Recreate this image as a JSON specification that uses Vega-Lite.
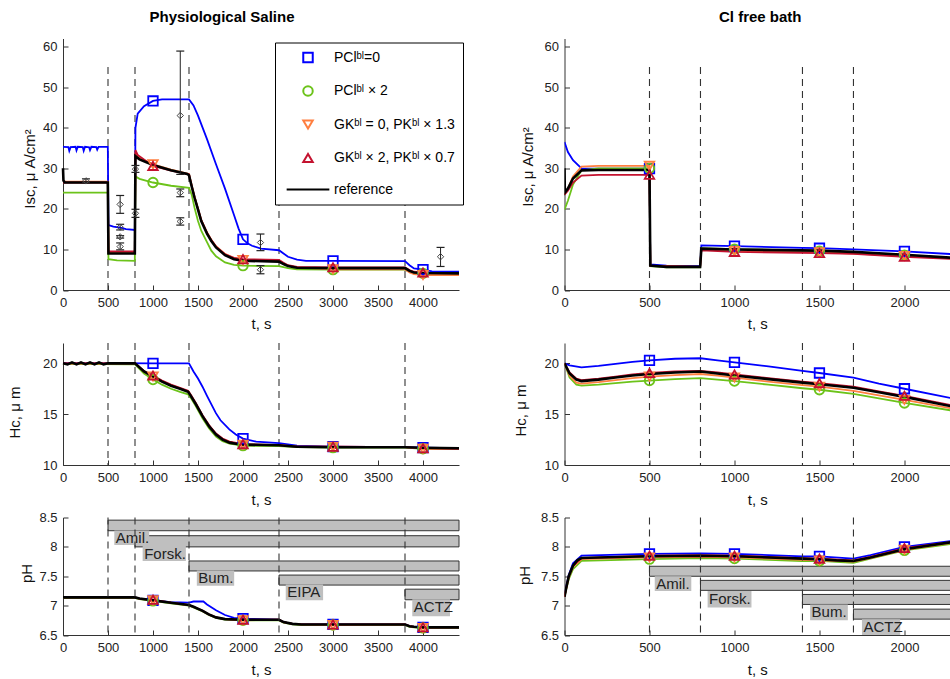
{
"$schema":"https://vega.github.io/schema/vega-lite/v6.json",
"background":"white",
"padding":{"left":6,"top":9.5,"right":0,"bottom":0},
"config":{
 "font":"Liberation Sans",
 "view":{"stroke":null},
 "axis":{"domainColor":"#333","domainWidth":1,"tickColor":"#333","tickSize":-5,"tickWidth":1,"labelPadding":11,"labelFontSize":13,"labelColor":"#222","labelFont":"Liberation Sans","titleFont":"Liberation Sans","titleFontSize":15,"titleFontWeight":"normal","titleColor":"#111","grid":false,"labelFlush":false,"labelOverlap":false},
 "title":{"fontSize":15,"fontWeight":"bold","font":"Liberation Sans","color":"#000","offset":13.5,"frame":"group","anchor":"middle","baseline":"alphabetic"}
},
"datasets":{
"vl1":[{"t":500},{"t":800},{"t":1400},{"t":2400},{"t":3800}],
"vl2":[{"t":500},{"t":800},{"t":1400},{"t":1700}],
"err":[{"t":255,"m":26.9,"lo":26.5,"hi":27.4},{"t":635,"m":21.1,"lo":18.9,"hi":23.3},{"t":635,"m":15.5,"lo":14.8,"hi":16.2},{"t":635,"m":13.1,"lo":12.8,"hi":13.4},{"t":635,"m":10.7,"lo":9.9,"hi":11.6},{"t":805,"m":29.8,"lo":29.0,"hi":30.7},{"t":805,"m":18.9,"lo":17.9,"hi":19.9},{"t":1303,"m":43.0,"lo":28.5,"hi":58.9},{"t":1303,"m":24.0,"lo":23.0,"hi":24.9},{"t":1303,"m":16.9,"lo":16.0,"hi":17.8},{"t":2194,"m":11.7,"lo":9.7,"hi":13.8},{"t":2194,"m":5.0,"lo":4.0,"hi":6.0},{"t":4195,"m":8.2,"lo":5.8,"hi":10.5}],
"bars1":[{"n":"Amil.","t0":500,"t1":4400,"top":8.455,"bot":8.275,"l0":570,"l1":958,"ltop":8.28,"lbot":8.03},{"n":"Forsk.","t0":800,"t1":4400,"top":8.19,"bot":8.0,"l0":885,"l1":1365,"ltop":8.02,"lbot":7.76},{"n":"Bum.","t0":1400,"t1":4400,"top":7.76,"bot":7.59,"l0":1487,"l1":1902,"ltop":7.6,"lbot":7.34},{"n":"EIPA","t0":2400,"t1":4400,"top":7.52,"bot":7.35,"l0":2475,"l1":2890,"ltop":7.36,"lbot":7.09},{"n":"ACTZ","t0":3800,"t1":4400,"top":7.28,"bot":7.1,"l0":3881,"l1":4300,"ltop":7.11,"lbot":6.82}],
"bars2":[{"n":"Amil.","t0":500,"t1":2300,"top":7.67,"bot":7.5,"l0":531,"l1":746,"ltop":7.5,"lbot":7.25},{"n":"Forsk.","t0":800,"t1":2300,"top":7.43,"bot":7.26,"l0":842,"l1":1100,"ltop":7.25,"lbot":6.97},{"n":"Bum.","t0":1400,"t1":2300,"top":7.19,"bot":7.02,"l0":1445,"l1":1667,"ltop":7.02,"lbot":6.75},{"n":"ACTZ","t0":1700,"t1":2300,"top":6.94,"bot":6.77,"l0":1750,"l1":1975,"ltop":6.77,"lbot":6.5}],
"isc1":[
{"s":"a","t":0,"v":35.3},{"s":"a","t":60,"v":35.2},{"s":"a","t":70,"v":34.3},{"s":"a","t":85,"v":35.2},{"s":"a","t":140,"v":35.3},{"s":"a","t":150,"v":34.4},{"s":"a","t":165,"v":35.3},{"s":"a","t":220,"v":35.2},{"s":"a","t":230,"v":34.3},{"s":"a","t":245,"v":35.3},{"s":"a","t":290,"v":35.2},{"s":"a","t":300,"v":34.5},{"s":"a","t":315,"v":35.3},{"s":"a","t":370,"v":35.2},{"s":"a","t":380,"v":34.6},{"s":"a","t":395,"v":35.3},{"s":"a","t":498,"v":35.3},{"s":"a","t":505,"v":16.0},{"s":"a","t":560,"v":15.6},{"s":"a","t":650,"v":15.3},{"s":"a","t":700,"v":15.0},{"s":"a","t":798,"v":14.8},{"s":"a","t":805,"v":40.0},{"s":"a","t":830,"v":43.5},{"s":"a","t":900,"v":45.3},{"s":"a","t":1000,"v":46.6},{"s":"a","t":1100,"v":47.0},{"s":"a","t":1400,"v":47.0},{"s":"a","t":1450,"v":45.5},{"s":"a","t":1500,"v":43.0},{"s":"a","t":1600,"v":37.2},{"s":"a","t":1700,"v":31.0},{"s":"a","t":1800,"v":25.0},{"s":"a","t":1900,"v":18.5},{"s":"a","t":1950,"v":15.2},{"s":"a","t":2000,"v":12.5},{"s":"a","t":2050,"v":11.5},{"s":"a","t":2100,"v":10.9},{"s":"a","t":2200,"v":10.2},{"s":"a","t":2400,"v":9.8},{"s":"a","t":2450,"v":9.0},{"s":"a","t":2500,"v":8.2},{"s":"a","t":2600,"v":7.5},{"s":"a","t":2700,"v":7.2},{"s":"a","t":3000,"v":7.2},{"s":"a","t":3800,"v":7.1},{"s":"a","t":3850,"v":6.1},{"s":"a","t":3900,"v":5.3},{"s":"a","t":4000,"v":5.0},{"s":"a","t":4100,"v":4.6},{"s":"a","t":4400,"v":4.5},
{"s":"b","t":0,"v":24.0},{"s":"b","t":498,"v":24.0},{"s":"b","t":505,"v":7.6},{"s":"b","t":600,"v":7.3},{"s":"b","t":798,"v":7.2},{"s":"b","t":805,"v":28.0},{"s":"b","t":850,"v":27.4},{"s":"b","t":1000,"v":26.5},{"s":"b","t":1200,"v":25.7},{"s":"b","t":1400,"v":25.2},{"s":"b","t":1430,"v":23.5},{"s":"b","t":1461,"v":20.3},{"s":"b","t":1500,"v":17.0},{"s":"b","t":1536,"v":14.6},{"s":"b","t":1600,"v":11.8},{"s":"b","t":1648,"v":9.7},{"s":"b","t":1700,"v":8.3},{"s":"b","t":1800,"v":6.8},{"s":"b","t":1900,"v":6.2},{"s":"b","t":2000,"v":6.0},{"s":"b","t":2400,"v":5.9},{"s":"b","t":2500,"v":5.4},{"s":"b","t":2600,"v":5.1},{"s":"b","t":3000,"v":5.0},{"s":"b","t":3800,"v":5.0},{"s":"b","t":3850,"v":4.5},{"s":"b","t":3900,"v":4.1},{"s":"b","t":4000,"v":4.1},{"s":"b","t":4400,"v":4.0},
{"s":"c","t":0,"v":26.7},{"s":"c","t":498,"v":26.7},{"s":"c","t":505,"v":9.3},{"s":"c","t":798,"v":9.3},{"s":"c","t":805,"v":33.5},{"s":"c","t":850,"v":32.5},{"s":"c","t":1000,"v":31.0},{"s":"c","t":1200,"v":29.7},{"s":"c","t":1400,"v":28.6},{"s":"c","t":1430,"v":25.8},{"s":"c","t":1461,"v":23.0},{"s":"c","t":1500,"v":20.0},{"s":"c","t":1536,"v":17.3},{"s":"c","t":1600,"v":14.2},{"s":"c","t":1648,"v":12.4},{"s":"c","t":1700,"v":10.8},{"s":"c","t":1800,"v":8.9},{"s":"c","t":1900,"v":7.9},{"s":"c","t":2000,"v":7.4},{"s":"c","t":2400,"v":7.3},{"s":"c","t":2450,"v":6.6},{"s":"c","t":2500,"v":6.0},{"s":"c","t":2600,"v":5.6},{"s":"c","t":3000,"v":5.1},{"s":"c","t":3800,"v":5.1},{"s":"c","t":3850,"v":4.3},{"s":"c","t":3900,"v":3.9},{"s":"c","t":4000,"v":3.7},{"s":"c","t":4400,"v":3.7},
{"s":"d","t":0,"v":26.5},{"s":"d","t":498,"v":26.5},{"s":"d","t":505,"v":9.5},{"s":"d","t":798,"v":9.5},{"s":"d","t":805,"v":34.5},{"s":"d","t":830,"v":33.3},{"s":"d","t":1000,"v":30.6},{"s":"d","t":1200,"v":29.4},{"s":"d","t":1400,"v":28.5},{"s":"d","t":1430,"v":25.7},{"s":"d","t":1461,"v":23.0},{"s":"d","t":1500,"v":20.0},{"s":"d","t":1536,"v":17.2},{"s":"d","t":1600,"v":14.1},{"s":"d","t":1648,"v":12.3},{"s":"d","t":1700,"v":10.7},{"s":"d","t":1800,"v":8.8},{"s":"d","t":1900,"v":7.9},{"s":"d","t":2000,"v":7.6},{"s":"d","t":2400,"v":7.4},{"s":"d","t":2450,"v":6.7},{"s":"d","t":2500,"v":6.1},{"s":"d","t":2600,"v":5.7},{"s":"d","t":3000,"v":5.6},{"s":"d","t":3800,"v":5.6},{"s":"d","t":3850,"v":4.9},{"s":"d","t":3900,"v":4.5},{"s":"d","t":4000,"v":4.3},{"s":"d","t":4400,"v":4.2},
{"s":"r","t":0,"v":30.0},{"s":"r","t":5,"v":27.0},{"s":"r","t":20,"v":26.5},{"s":"r","t":498,"v":26.5},{"s":"r","t":505,"v":9.0},{"s":"r","t":798,"v":9.0},{"s":"r","t":805,"v":33.0},{"s":"r","t":850,"v":32.2},{"s":"r","t":1000,"v":30.8},{"s":"r","t":1200,"v":29.5},{"s":"r","t":1380,"v":28.6},{"s":"r","t":1400,"v":28.3},{"s":"r","t":1430,"v":25.5},{"s":"r","t":1461,"v":22.8},{"s":"r","t":1500,"v":19.8},{"s":"r","t":1536,"v":17.0},{"s":"r","t":1600,"v":13.9},{"s":"r","t":1648,"v":12.1},{"s":"r","t":1700,"v":10.5},{"s":"r","t":1800,"v":8.6},{"s":"r","t":1900,"v":7.6},{"s":"r","t":2000,"v":7.2},{"s":"r","t":2400,"v":7.0},{"s":"r","t":2450,"v":6.4},{"s":"r","t":2500,"v":5.9},{"s":"r","t":2600,"v":5.5},{"s":"r","t":3000,"v":5.4},{"s":"r","t":3800,"v":5.4},{"s":"r","t":3850,"v":4.7},{"s":"r","t":3900,"v":4.3},{"s":"r","t":4000,"v":4.2},{"s":"r","t":4400,"v":4.1}
],
"hc1":[
{"s":"a","t":0,"v":20.05},{"s":"a","t":1000,"v":20.0},{"s":"a","t":1400,"v":20.0},{"s":"a","t":1450,"v":19.2},{"s":"a","t":1500,"v":18.5},{"s":"a","t":1550,"v":17.7},{"s":"a","t":1600,"v":16.8},{"s":"a","t":1699,"v":15.1},{"s":"a","t":1750,"v":14.4},{"s":"a","t":1848,"v":13.5},{"s":"a","t":1920,"v":13.0},{"s":"a","t":2000,"v":12.6},{"s":"a","t":2146,"v":12.3},{"s":"a","t":2400,"v":12.15},{"s":"a","t":2600,"v":11.9},{"s":"a","t":3000,"v":11.8},{"s":"a","t":3800,"v":11.75},{"s":"a","t":4000,"v":11.7},{"s":"a","t":4400,"v":11.65},
{"s":"b","t":0,"v":19.95},{"s":"b","t":800,"v":19.9},{"s":"b","t":900,"v":19.0},{"s":"b","t":1000,"v":18.4},{"s":"b","t":1100,"v":17.9},{"s":"b","t":1200,"v":17.5},{"s":"b","t":1300,"v":17.2},{"s":"b","t":1390,"v":16.95},{"s":"b","t":1420,"v":16.6},{"s":"b","t":1475,"v":15.8},{"s":"b","t":1550,"v":14.6},{"s":"b","t":1624,"v":13.6},{"s":"b","t":1700,"v":12.8},{"s":"b","t":1773,"v":12.35},{"s":"b","t":1850,"v":12.1},{"s":"b","t":2000,"v":11.9},{"s":"b","t":2400,"v":11.85},{"s":"b","t":2600,"v":11.75},{"s":"b","t":3000,"v":11.7},{"s":"b","t":3800,"v":11.7},{"s":"b","t":4000,"v":11.6},{"s":"b","t":4400,"v":11.6},
{"s":"c","t":0,"v":20.0},{"s":"c","t":800,"v":20.0},{"s":"c","t":900,"v":19.2},{"s":"c","t":1000,"v":18.7},{"s":"c","t":1100,"v":18.25},{"s":"c","t":1200,"v":17.85},{"s":"c","t":1300,"v":17.55},{"s":"c","t":1390,"v":17.25},{"s":"c","t":1420,"v":16.85},{"s":"c","t":1475,"v":16.05},{"s":"c","t":1550,"v":14.85},{"s":"c","t":1624,"v":13.85},{"s":"c","t":1700,"v":13.05},{"s":"c","t":1773,"v":12.55},{"s":"c","t":1850,"v":12.25},{"s":"c","t":2000,"v":12.0},{"s":"c","t":2400,"v":11.95},{"s":"c","t":2600,"v":11.8},{"s":"c","t":3000,"v":11.8},{"s":"c","t":3800,"v":11.75},{"s":"c","t":4000,"v":11.6},{"s":"c","t":4400,"v":11.6},
{"s":"d","t":0,"v":20.0},{"s":"d","t":800,"v":20.0},{"s":"d","t":900,"v":19.25},{"s":"d","t":1000,"v":18.8},{"s":"d","t":1100,"v":18.3},{"s":"d","t":1200,"v":17.9},{"s":"d","t":1300,"v":17.6},{"s":"d","t":1390,"v":17.3},{"s":"d","t":1420,"v":16.9},{"s":"d","t":1475,"v":16.1},{"s":"d","t":1550,"v":14.9},{"s":"d","t":1624,"v":13.9},{"s":"d","t":1700,"v":13.1},{"s":"d","t":1773,"v":12.6},{"s":"d","t":1850,"v":12.3},{"s":"d","t":2000,"v":12.05},{"s":"d","t":2400,"v":11.95},{"s":"d","t":2600,"v":11.8},{"s":"d","t":3000,"v":11.8},{"s":"d","t":3800,"v":11.75},{"s":"d","t":4000,"v":11.65},{"s":"d","t":4400,"v":11.6},
{"s":"r","t":0,"v":20.0},{"s":"r","t":50,"v":19.9},{"s":"r","t":100,"v":20.1},{"s":"r","t":150,"v":19.9},{"s":"r","t":200,"v":20.1},{"s":"r","t":250,"v":19.9},{"s":"r","t":300,"v":20.1},{"s":"r","t":350,"v":19.9},{"s":"r","t":400,"v":20.1},{"s":"r","t":450,"v":19.9},{"s":"r","t":500,"v":20.0},{"s":"r","t":800,"v":20.0},{"s":"r","t":900,"v":19.2},{"s":"r","t":1000,"v":18.7},{"s":"r","t":1100,"v":18.2},{"s":"r","t":1200,"v":17.8},{"s":"r","t":1300,"v":17.5},{"s":"r","t":1390,"v":17.2},{"s":"r","t":1420,"v":16.8},{"s":"r","t":1475,"v":16.0},{"s":"r","t":1550,"v":14.8},{"s":"r","t":1624,"v":13.8},{"s":"r","t":1700,"v":13.0},{"s":"r","t":1773,"v":12.5},{"s":"r","t":1850,"v":12.2},{"s":"r","t":1950,"v":12.05},{"s":"r","t":2000,"v":12.0},{"s":"r","t":2400,"v":11.95},{"s":"r","t":2600,"v":11.8},{"s":"r","t":3000,"v":11.75},{"s":"r","t":3800,"v":11.75},{"s":"r","t":4000,"v":11.7},{"s":"r","t":4400,"v":11.65}
],
"ph1":[
{"s":"a","t":0,"v":7.14},{"s":"a","t":800,"v":7.14},{"s":"a","t":850,"v":7.12},{"s":"a","t":1000,"v":7.09},{"s":"a","t":1200,"v":7.06},{"s":"a","t":1400,"v":7.05},{"s":"a","t":1450,"v":7.07},{"s":"a","t":1560,"v":7.07},{"s":"a","t":1600,"v":7.02},{"s":"a","t":1700,"v":6.92},{"s":"a","t":1800,"v":6.84},{"s":"a","t":1900,"v":6.79},{"s":"a","t":2000,"v":6.78},{"s":"a","t":2400,"v":6.76},{"s":"a","t":2450,"v":6.72},{"s":"a","t":2550,"v":6.69},{"s":"a","t":2650,"v":6.68},{"s":"a","t":3000,"v":6.68},{"s":"a","t":3800,"v":6.68},{"s":"a","t":3850,"v":6.65},{"s":"a","t":3900,"v":6.64},{"s":"a","t":4000,"v":6.63},{"s":"a","t":4400,"v":6.63},
{"s":"b","t":0,"v":7.13},{"s":"b","t":800,"v":7.13},{"s":"b","t":850,"v":7.11},{"s":"b","t":1000,"v":7.08},{"s":"b","t":1200,"v":7.04},{"s":"b","t":1400,"v":7.0},{"s":"b","t":1450,"v":6.97},{"s":"b","t":1552,"v":6.9},{"s":"b","t":1620,"v":6.84},{"s":"b","t":1700,"v":6.79},{"s":"b","t":1800,"v":6.76},{"s":"b","t":2000,"v":6.75},{"s":"b","t":2400,"v":6.75},{"s":"b","t":2450,"v":6.71},{"s":"b","t":2550,"v":6.68},{"s":"b","t":2650,"v":6.67},{"s":"b","t":3000,"v":6.67},{"s":"b","t":3800,"v":6.67},{"s":"b","t":3850,"v":6.64},{"s":"b","t":3900,"v":6.63},{"s":"b","t":4000,"v":6.62},{"s":"b","t":4400,"v":6.62},
{"s":"c","t":0,"v":7.14},{"s":"c","t":800,"v":7.14},{"s":"c","t":850,"v":7.12},{"s":"c","t":1000,"v":7.09},{"s":"c","t":1200,"v":7.05},{"s":"c","t":1400,"v":7.01},{"s":"c","t":1450,"v":6.98},{"s":"c","t":1552,"v":6.91},{"s":"c","t":1620,"v":6.85},{"s":"c","t":1700,"v":6.8},{"s":"c","t":1800,"v":6.77},{"s":"c","t":2000,"v":6.75},{"s":"c","t":2400,"v":6.76},{"s":"c","t":2450,"v":6.72},{"s":"c","t":2550,"v":6.69},{"s":"c","t":2650,"v":6.68},{"s":"c","t":3000,"v":6.67},{"s":"c","t":3800,"v":6.68},{"s":"c","t":3850,"v":6.65},{"s":"c","t":3900,"v":6.64},{"s":"c","t":4000,"v":6.62},{"s":"c","t":4400,"v":6.63},
{"s":"d","t":0,"v":7.14},{"s":"d","t":800,"v":7.14},{"s":"d","t":850,"v":7.12},{"s":"d","t":1000,"v":7.1},{"s":"d","t":1200,"v":7.05},{"s":"d","t":1400,"v":7.01},{"s":"d","t":1450,"v":6.98},{"s":"d","t":1552,"v":6.91},{"s":"d","t":1620,"v":6.85},{"s":"d","t":1700,"v":6.8},{"s":"d","t":1800,"v":6.77},{"s":"d","t":2000,"v":6.76},{"s":"d","t":2400,"v":6.76},{"s":"d","t":2450,"v":6.72},{"s":"d","t":2550,"v":6.69},{"s":"d","t":2650,"v":6.68},{"s":"d","t":3000,"v":6.68},{"s":"d","t":3800,"v":6.68},{"s":"d","t":3850,"v":6.65},{"s":"d","t":3900,"v":6.64},{"s":"d","t":4000,"v":6.63},{"s":"d","t":4400,"v":6.63},
{"s":"r","t":0,"v":7.14},{"s":"r","t":800,"v":7.14},{"s":"r","t":850,"v":7.12},{"s":"r","t":1000,"v":7.09},{"s":"r","t":1200,"v":7.05},{"s":"r","t":1400,"v":7.01},{"s":"r","t":1450,"v":6.98},{"s":"r","t":1552,"v":6.91},{"s":"r","t":1620,"v":6.85},{"s":"r","t":1700,"v":6.8},{"s":"r","t":1800,"v":6.77},{"s":"r","t":2000,"v":6.76},{"s":"r","t":2400,"v":6.76},{"s":"r","t":2450,"v":6.72},{"s":"r","t":2550,"v":6.69},{"s":"r","t":2650,"v":6.68},{"s":"r","t":3000,"v":6.68},{"s":"r","t":3800,"v":6.68},{"s":"r","t":3850,"v":6.65},{"s":"r","t":3900,"v":6.64},{"s":"r","t":4000,"v":6.63},{"s":"r","t":4400,"v":6.63}
],
"isc2":[
{"s":"a","t":0,"v":36.5},{"s":"a","t":20,"v":34.0},{"s":"a","t":50,"v":32.0},{"s":"a","t":100,"v":30.0},{"s":"a","t":200,"v":29.9},{"s":"a","t":500,"v":29.9},{"s":"a","t":505,"v":6.3},{"s":"a","t":600,"v":6.0},{"s":"a","t":798,"v":5.9},{"s":"a","t":805,"v":11.0},{"s":"a","t":1000,"v":10.8},{"s":"a","t":1400,"v":10.4},{"s":"a","t":1500,"v":10.3},{"s":"a","t":1700,"v":10.0},{"s":"a","t":2000,"v":9.5},{"s":"a","t":2300,"v":8.8},
{"s":"b","t":0,"v":19.8},{"s":"b","t":20,"v":22.0},{"s":"b","t":50,"v":26.0},{"s":"b","t":100,"v":29.5},{"s":"b","t":200,"v":30.0},{"s":"b","t":500,"v":30.0},{"s":"b","t":505,"v":5.9},{"s":"b","t":600,"v":5.6},{"s":"b","t":798,"v":5.6},{"s":"b","t":805,"v":10.3},{"s":"b","t":1000,"v":10.1},{"s":"b","t":1500,"v":9.6},{"s":"b","t":1700,"v":9.3},{"s":"b","t":2000,"v":8.6},{"s":"b","t":2300,"v":7.8},
{"s":"c","t":0,"v":23.5},{"s":"c","t":20,"v":25.0},{"s":"c","t":50,"v":28.0},{"s":"c","t":100,"v":30.4},{"s":"c","t":200,"v":30.6},{"s":"c","t":500,"v":30.6},{"s":"c","t":505,"v":6.0},{"s":"c","t":798,"v":5.7},{"s":"c","t":805,"v":10.0},{"s":"c","t":1000,"v":9.6},{"s":"c","t":1500,"v":9.3},{"s":"c","t":1700,"v":9.0},{"s":"c","t":2000,"v":8.4},{"s":"c","t":2300,"v":7.7},
{"s":"d","t":0,"v":23.5},{"s":"d","t":20,"v":24.5},{"s":"d","t":50,"v":26.5},{"s":"d","t":100,"v":28.2},{"s":"d","t":200,"v":28.4},{"s":"d","t":500,"v":28.4},{"s":"d","t":505,"v":6.0},{"s":"d","t":798,"v":5.7},{"s":"d","t":805,"v":9.8},{"s":"d","t":1000,"v":9.4},{"s":"d","t":1500,"v":9.1},{"s":"d","t":1700,"v":8.9},{"s":"d","t":2000,"v":8.2},{"s":"d","t":2300,"v":7.6},
{"s":"r","t":0,"v":30.0},{"s":"r","t":2,"v":24.0},{"s":"r","t":20,"v":25.0},{"s":"r","t":50,"v":27.5},{"s":"r","t":100,"v":29.5},{"s":"r","t":200,"v":29.6},{"s":"r","t":500,"v":29.6},{"s":"r","t":505,"v":6.0},{"s":"r","t":600,"v":5.7},{"s":"r","t":798,"v":5.7},{"s":"r","t":805,"v":10.2},{"s":"r","t":1000,"v":10.0},{"s":"r","t":1500,"v":9.7},{"s":"r","t":1700,"v":9.4},{"s":"r","t":2000,"v":8.7},{"s":"r","t":2300,"v":7.9}
],
"hc2":[
{"s":"a","t":0,"v":20.0},{"s":"a","t":30,"v":19.8},{"s":"a","t":100,"v":19.6},{"s":"a","t":200,"v":19.75},{"s":"a","t":300,"v":19.95},{"s":"a","t":400,"v":20.15},{"s":"a","t":500,"v":20.3},{"s":"a","t":650,"v":20.45},{"s":"a","t":800,"v":20.5},{"s":"a","t":900,"v":20.3},{"s":"a","t":1000,"v":20.1},{"s":"a","t":1200,"v":19.7},{"s":"a","t":1400,"v":19.25},{"s":"a","t":1500,"v":19.05},{"s":"a","t":1700,"v":18.6},{"s":"a","t":1850,"v":18.0},{"s":"a","t":2000,"v":17.5},{"s":"a","t":2300,"v":16.5},
{"s":"b","t":0,"v":20.0},{"s":"b","t":30,"v":18.6},{"s":"b","t":70,"v":17.9},{"s":"b","t":100,"v":17.8},{"s":"b","t":200,"v":17.9},{"s":"b","t":300,"v":18.05},{"s":"b","t":400,"v":18.2},{"s":"b","t":500,"v":18.3},{"s":"b","t":650,"v":18.45},{"s":"b","t":800,"v":18.55},{"s":"b","t":900,"v":18.4},{"s":"b","t":1000,"v":18.25},{"s":"b","t":1200,"v":17.9},{"s":"b","t":1400,"v":17.55},{"s":"b","t":1500,"v":17.4},{"s":"b","t":1700,"v":17.0},{"s":"b","t":1850,"v":16.55},{"s":"b","t":2000,"v":16.1},{"s":"b","t":2300,"v":15.3},
{"s":"c","t":0,"v":20.0},{"s":"c","t":30,"v":18.8},{"s":"c","t":70,"v":18.1},{"s":"c","t":100,"v":18.0},{"s":"c","t":200,"v":18.15},{"s":"c","t":300,"v":18.35},{"s":"c","t":400,"v":18.55},{"s":"c","t":500,"v":18.7},{"s":"c","t":650,"v":18.85},{"s":"c","t":800,"v":18.95},{"s":"c","t":900,"v":18.8},{"s":"c","t":1000,"v":18.6},{"s":"c","t":1200,"v":18.2},{"s":"c","t":1400,"v":17.85},{"s":"c","t":1500,"v":17.7},{"s":"c","t":1700,"v":17.3},{"s":"c","t":1850,"v":16.85},{"s":"c","t":2000,"v":16.4},{"s":"c","t":2300,"v":15.5},
{"s":"d","t":0,"v":20.0},{"s":"d","t":30,"v":19.1},{"s":"d","t":70,"v":18.5},{"s":"d","t":100,"v":18.35},{"s":"d","t":200,"v":18.5},{"s":"d","t":300,"v":18.7},{"s":"d","t":400,"v":18.9},{"s":"d","t":500,"v":19.05},{"s":"d","t":650,"v":19.2},{"s":"d","t":800,"v":19.25},{"s":"d","t":900,"v":19.1},{"s":"d","t":1000,"v":18.9},{"s":"d","t":1200,"v":18.55},{"s":"d","t":1400,"v":18.2},{"s":"d","t":1500,"v":18.05},{"s":"d","t":1700,"v":17.7},{"s":"d","t":1850,"v":17.25},{"s":"d","t":2000,"v":16.8},{"s":"d","t":2300,"v":15.8},
{"s":"r","t":0,"v":20.0},{"s":"r","t":30,"v":19.0},{"s":"r","t":70,"v":18.4},{"s":"r","t":100,"v":18.25},{"s":"r","t":200,"v":18.4},{"s":"r","t":300,"v":18.6},{"s":"r","t":400,"v":18.8},{"s":"r","t":500,"v":18.95},{"s":"r","t":650,"v":19.1},{"s":"r","t":800,"v":19.2},{"s":"r","t":900,"v":19.0},{"s":"r","t":1000,"v":18.8},{"s":"r","t":1200,"v":18.45},{"s":"r","t":1400,"v":18.1},{"s":"r","t":1500,"v":17.95},{"s":"r","t":1700,"v":17.6},{"s":"r","t":1850,"v":17.15},{"s":"r","t":2000,"v":16.7},{"s":"r","t":2300,"v":15.7}
],
"ph2":[
{"s":"a","t":0,"v":7.15},{"s":"a","t":10,"v":7.32},{"s":"a","t":25,"v":7.52},{"s":"a","t":50,"v":7.72},{"s":"a","t":100,"v":7.85},{"s":"a","t":500,"v":7.88},{"s":"a","t":800,"v":7.89},{"s":"a","t":1000,"v":7.88},{"s":"a","t":1400,"v":7.84},{"s":"a","t":1500,"v":7.84},{"s":"a","t":1700,"v":7.8},{"s":"a","t":1800,"v":7.86},{"s":"a","t":2000,"v":8.0},{"s":"a","t":2300,"v":8.11},
{"s":"b","t":0,"v":7.15},{"s":"b","t":10,"v":7.28},{"s":"b","t":25,"v":7.45},{"s":"b","t":50,"v":7.62},{"s":"b","t":100,"v":7.76},{"s":"b","t":500,"v":7.79},{"s":"b","t":800,"v":7.81},{"s":"b","t":1000,"v":7.8},{"s":"b","t":1400,"v":7.76},{"s":"b","t":1500,"v":7.76},{"s":"b","t":1700,"v":7.73},{"s":"b","t":1800,"v":7.8},{"s":"b","t":2000,"v":7.94},{"s":"b","t":2300,"v":8.06},
{"s":"c","t":0,"v":7.15},{"s":"c","t":10,"v":7.29},{"s":"c","t":25,"v":7.48},{"s":"c","t":50,"v":7.66},{"s":"c","t":100,"v":7.79},{"s":"c","t":500,"v":7.82},{"s":"c","t":800,"v":7.83},{"s":"c","t":1000,"v":7.82},{"s":"c","t":1400,"v":7.78},{"s":"c","t":1500,"v":7.77},{"s":"c","t":1700,"v":7.75},{"s":"c","t":1800,"v":7.81},{"s":"c","t":2000,"v":7.95},{"s":"c","t":2300,"v":8.08},
{"s":"d","t":0,"v":7.15},{"s":"d","t":10,"v":7.3},{"s":"d","t":25,"v":7.5},{"s":"d","t":50,"v":7.68},{"s":"d","t":100,"v":7.81},{"s":"d","t":500,"v":7.85},{"s":"d","t":800,"v":7.86},{"s":"d","t":1000,"v":7.85},{"s":"d","t":1400,"v":7.81},{"s":"d","t":1500,"v":7.8},{"s":"d","t":1700,"v":7.77},{"s":"d","t":1800,"v":7.83},{"s":"d","t":2000,"v":7.98},{"s":"d","t":2300,"v":8.09},
{"s":"r","t":0,"v":7.15},{"s":"r","t":10,"v":7.3},{"s":"r","t":25,"v":7.5},{"s":"r","t":50,"v":7.68},{"s":"r","t":75,"v":7.77},{"s":"r","t":100,"v":7.81},{"s":"r","t":200,"v":7.82},{"s":"r","t":500,"v":7.84},{"s":"r","t":800,"v":7.85},{"s":"r","t":1000,"v":7.84},{"s":"r","t":1400,"v":7.8},{"s":"r","t":1500,"v":7.79},{"s":"r","t":1600,"v":7.77},{"s":"r","t":1700,"v":7.76},{"s":"r","t":1800,"v":7.82},{"s":"r","t":2000,"v":7.96},{"s":"r","t":2300,"v":8.09}
]
},
"columns":2,
"spacing":{"row":52.5,"column":105.5},
"bounds":"flush",
"concat":[
{"width":396,"height":251.5,
 "title":{"text":"Physiological Saline","dx":-39},
 "layer":[
  {"data":{"name":"vl1"},"mark":{"type":"rule","strokeDash":[7,5],"color":"#333","strokeWidth":1.1},
   "encoding":{"x":{"field":"t","type":"quantitative","scale":{"domain":[0,4400],"nice":false}},"y":{"datum":0,"type":"quantitative","scale":{"domain":[0,62],"nice":false}},"y2":{"datum":55}}},
  {"data":{"name":"isc1"},"transform":[{"filter":"datum.s != 'r'"}],"mark":{"type":"line","strokeWidth":1.8},
   "encoding":{"x":{"field":"t","type":"quantitative","scale":{"domain":[0,4400],"nice":false},"axis":{"values":[0,500,1000,1500,2000,2500,3000,3500,4000],"tickCount":30,"format":"d","labelOverlap":false,"title":"t, s","titleY":33,"titleBaseline":"middle"}},
    "y":{"field":"v","type":"quantitative","scale":{"domain":[0,62],"nice":false},"axis":{"values":[0,10,20,30,40,50,60],"tickCount":30,"format":"d","labelOverlap":false,"title":"Isc, μ A/cm²","titleX":-34,"titleY":130,"titleBaseline":"middle","titleAngle":-90}},
    "color":{"field":"s","type":"nominal","scale":{"domain":["a","b","c","d","r"],"range":["#0000ff","#6cc31a","#ff7f40","#c4122f","#000000"]}}}},
  {"data":{"name":"isc1"},"transform":[{"filter":"datum.s == 'r'"}],"mark":{"type":"line","strokeWidth":2.6,"color":"#000"},
   "encoding":{"x":{"field":"t","type":"quantitative","scale":{"domain":[0,4400],"nice":false}},"y":{"field":"v","type":"quantitative","scale":{"domain":[0,62],"nice":false}}}},
  {"data":{"name":"err"},"mark":{"type":"rule","color":"#222","strokeWidth":1},
   "encoding":{"x":{"field":"t","type":"quantitative","scale":{"domain":[0,4400],"nice":false}},"y":{"field":"lo","type":"quantitative","scale":{"domain":[0,62],"nice":false}},"y2":{"field":"hi"}}},
  {"data":{"name":"err"},"mark":{"type":"point","shape":"stroke","size":64,"color":"#222","strokeWidth":1.2,"opacity":1,"filled":false},
   "encoding":{"x":{"field":"t","type":"quantitative","scale":{"domain":[0,4400],"nice":false}},"y":{"field":"lo","type":"quantitative","scale":{"domain":[0,62],"nice":false}}}},
  {"data":{"name":"err"},"mark":{"type":"point","shape":"stroke","size":64,"color":"#222","strokeWidth":1.2,"opacity":1,"filled":false},
   "encoding":{"x":{"field":"t","type":"quantitative","scale":{"domain":[0,4400],"nice":false}},"y":{"field":"hi","type":"quantitative","scale":{"domain":[0,62],"nice":false}}}},
  {"data":{"name":"err"},"mark":{"type":"point","shape":"diamond","size":40,"color":"#444","strokeWidth":1,"opacity":1,"filled":false},
   "encoding":{"x":{"field":"t","type":"quantitative","scale":{"domain":[0,4400],"nice":false}},"y":{"field":"m","type":"quantitative","scale":{"domain":[0,62],"nice":false}}}},
  {"data":{"name":"isc1"},"transform":[{"filter":"datum.s != 'r'"},{"filter":{"field":"t","oneOf":[1000,2000,3000,4000]}}],
   "mark":{"type":"point","filled":false,"size":90,"strokeWidth":1.8,"opacity":1},
   "encoding":{"x":{"field":"t","type":"quantitative","scale":{"domain":[0,4400],"nice":false}},"y":{"field":"v","type":"quantitative","scale":{"domain":[0,62],"nice":false}},
    "color":{"field":"s","type":"nominal","scale":{"domain":["a","b","c","d","r"],"range":["#0000ff","#6cc31a","#ff7f40","#c4122f","#000000"]},
      "legend":{"title":null,"orient":"none","legendX":212,"legendY":4,"padding":8,"symbolOffset":18,"labelOffset":19,"rowPadding":15.5,"strokeColor":"#000","fillColor":"#fff","labelFontSize":14,"labelFont":"Liberation Sans","labelColor":"#000","symbolSize":90,"symbolStrokeWidth":2,"labelLimit":400,"cornerRadius":0,
        "labelExpr":"datum.label == 'a' ? 'PClᵇˡ=0' : datum.label == 'b' ? 'PClᵇˡ × 2' : datum.label == 'c' ? 'GKᵇˡ = 0, PKᵇˡ × 1.3' : datum.label == 'd' ? 'GKᵇˡ × 2, PKᵇˡ × 0.7' : 'reference'"}},
    "shape":{"field":"s","type":"nominal","scale":{"domain":["a","b","c","d","r"],"range":["square","circle","triangle-down","triangle-up","M-4.5,0H4.5"]},
      "legend":{"title":null,"orient":"none","legendX":212,"legendY":4,"padding":8,"symbolOffset":18,"labelOffset":19,"rowPadding":15.5,"strokeColor":"#000","fillColor":"#fff","labelFontSize":14,"labelFont":"Liberation Sans","labelColor":"#000","symbolSize":90,"symbolStrokeWidth":2,"labelLimit":400,"cornerRadius":0,
        "labelExpr":"datum.label == 'a' ? 'PClᵇˡ=0' : datum.label == 'b' ? 'PClᵇˡ × 2' : datum.label == 'c' ? 'GKᵇˡ = 0, PKᵇˡ × 1.3' : datum.label == 'd' ? 'GKᵇˡ × 2, PKᵇˡ × 0.7' : 'reference'"}}}}
 ]},
{"width":385.5,"height":251.5,
 "title":{"text":"Cl free bath","dx":3},
 "layer":[
  {"data":{"name":"vl2"},"mark":{"type":"rule","strokeDash":[7,5],"color":"#333","strokeWidth":1.1},
   "encoding":{"x":{"field":"t","type":"quantitative","scale":{"domain":[0,2268],"nice":false}},"y":{"datum":0,"type":"quantitative","scale":{"domain":[0,62],"nice":false}},"y2":{"datum":55}}},
  {"data":{"name":"isc2"},"transform":[{"filter":"datum.s != 'r'"}],"mark":{"type":"line","strokeWidth":1.8,"clip":true},
   "encoding":{"x":{"field":"t","type":"quantitative","scale":{"domain":[0,2268],"nice":false},"axis":{"values":[0,500,1000,1500,2000],"tickCount":30,"format":"d","labelOverlap":false,"title":"t, s","titleY":33,"titleBaseline":"middle"}},
    "y":{"field":"v","type":"quantitative","scale":{"domain":[0,62],"nice":false},"axis":{"values":[0,10,20,30,40,50,60],"tickCount":30,"format":"d","labelOverlap":false,"title":"Isc, μ A/cm²","titleX":-37,"titleY":128,"titleBaseline":"middle","titleAngle":-90}},
    "color":{"field":"s","type":"nominal","scale":{"domain":["a","b","c","d","r"],"range":["#0000ff","#6cc31a","#ff7f40","#c4122f","#000000"]}}}},
  {"data":{"name":"isc2"},"transform":[{"filter":"datum.s == 'r'"}],"mark":{"type":"line","strokeWidth":2.6,"color":"#000","clip":true},
   "encoding":{"x":{"field":"t","type":"quantitative","scale":{"domain":[0,2268],"nice":false}},"y":{"field":"v","type":"quantitative","scale":{"domain":[0,62],"nice":false}}}},
  {"data":{"name":"isc2"},"transform":[{"filter":"datum.s != 'r'"},{"filter":{"field":"t","oneOf":[500,1000,1500,2000]}}],
   "mark":{"type":"point","filled":false,"size":90,"strokeWidth":1.8,"opacity":1},
   "encoding":{"x":{"field":"t","type":"quantitative","scale":{"domain":[0,2268],"nice":false}},"y":{"field":"v","type":"quantitative","scale":{"domain":[0,62],"nice":false}},
    "color":{"field":"s","type":"nominal","scale":{"domain":["a","b","c","d","r"],"range":["#0000ff","#6cc31a","#ff7f40","#c4122f","#000000"]}},
    "shape":{"field":"s","type":"nominal","scale":{"domain":["a","b","c","d","r"],"range":["square","circle","triangle-down","triangle-up","M-4.5,0H4.5"]}}}}
 ]},
{"width":396,"height":122,
 "layer":[
  {"data":{"name":"vl1"},"mark":{"type":"rule","strokeDash":[7,5],"color":"#333","strokeWidth":1.1},
   "encoding":{"x":{"field":"t","type":"quantitative","scale":{"domain":[0,4400],"nice":false}}}},
  {"data":{"name":"hc1"},"transform":[{"filter":"datum.s != 'r'"}],"mark":{"type":"line","strokeWidth":1.8},
   "encoding":{"x":{"field":"t","type":"quantitative","scale":{"domain":[0,4400],"nice":false},"axis":{"values":[0,500,1000,1500,2000,2500,3000,3500,4000],"tickCount":30,"format":"d","labelOverlap":false,"title":"t, s","titleY":34,"titleBaseline":"middle"}},
    "y":{"field":"v","type":"quantitative","scale":{"domain":[10,22],"nice":false,"zero":false},"axis":{"values":[10,15,20],"tickCount":30,"format":"d","labelOverlap":false,"title":"Hc, μ m","titleX":-49,"titleY":69,"titleBaseline":"middle","titleAngle":-90}},
    "color":{"field":"s","type":"nominal","scale":{"domain":["a","b","c","d","r"],"range":["#0000ff","#6cc31a","#ff7f40","#c4122f","#000000"]}}}},
  {"data":{"name":"hc1"},"transform":[{"filter":"datum.s == 'r'"}],"mark":{"type":"line","strokeWidth":2.6,"color":"#000"},
   "encoding":{"x":{"field":"t","type":"quantitative","scale":{"domain":[0,4400],"nice":false}},"y":{"field":"v","type":"quantitative","scale":{"domain":[10,22],"nice":false,"zero":false}}}},
  {"data":{"name":"hc1"},"transform":[{"filter":"datum.s != 'r'"},{"filter":{"field":"t","oneOf":[1000,2000,3000,4000]}}],
   "mark":{"type":"point","filled":false,"size":90,"strokeWidth":1.8,"opacity":1},
   "encoding":{"x":{"field":"t","type":"quantitative","scale":{"domain":[0,4400],"nice":false}},"y":{"field":"v","type":"quantitative","scale":{"domain":[10,22],"nice":false,"zero":false}},
    "color":{"field":"s","type":"nominal","scale":{"domain":["a","b","c","d","r"],"range":["#0000ff","#6cc31a","#ff7f40","#c4122f","#000000"]}},
    "shape":{"field":"s","type":"nominal","scale":{"domain":["a","b","c","d","r"],"range":["square","circle","triangle-down","triangle-up","M-4.5,0H4.5"]}}}}
 ]},
{"width":385.5,"height":122,
 "layer":[
  {"data":{"name":"vl2"},"mark":{"type":"rule","strokeDash":[7,5],"color":"#333","strokeWidth":1.1},
   "encoding":{"x":{"field":"t","type":"quantitative","scale":{"domain":[0,2268],"nice":false}}}},
  {"data":{"name":"hc2"},"transform":[{"filter":"datum.s != 'r'"}],"mark":{"type":"line","strokeWidth":1.8,"clip":true},
   "encoding":{"x":{"field":"t","type":"quantitative","scale":{"domain":[0,2268],"nice":false},"axis":{"values":[0,500,1000,1500,2000],"tickCount":30,"format":"d","labelOverlap":false,"title":"t, s","titleY":34,"titleBaseline":"middle"}},
    "y":{"field":"v","type":"quantitative","scale":{"domain":[10,22],"nice":false,"zero":false},"axis":{"values":[10,15,20],"tickCount":30,"format":"d","labelOverlap":false,"title":"Hc, μ m","titleX":-44.5,"titleY":67,"titleBaseline":"middle","titleAngle":-90}},
    "color":{"field":"s","type":"nominal","scale":{"domain":["a","b","c","d","r"],"range":["#0000ff","#6cc31a","#ff7f40","#c4122f","#000000"]}}}},
  {"data":{"name":"hc2"},"transform":[{"filter":"datum.s == 'r'"}],"mark":{"type":"line","strokeWidth":2.6,"color":"#000","clip":true},
   "encoding":{"x":{"field":"t","type":"quantitative","scale":{"domain":[0,2268],"nice":false}},"y":{"field":"v","type":"quantitative","scale":{"domain":[10,22],"nice":false,"zero":false}}}},
  {"data":{"name":"hc2"},"transform":[{"filter":"datum.s != 'r'"},{"filter":{"field":"t","oneOf":[500,1000,1500,2000]}}],
   "mark":{"type":"point","filled":false,"size":90,"strokeWidth":1.8,"opacity":1},
   "encoding":{"x":{"field":"t","type":"quantitative","scale":{"domain":[0,2268],"nice":false}},"y":{"field":"v","type":"quantitative","scale":{"domain":[10,22],"nice":false,"zero":false}},
    "color":{"field":"s","type":"nominal","scale":{"domain":["a","b","c","d","r"],"range":["#0000ff","#6cc31a","#ff7f40","#c4122f","#000000"]}},
    "shape":{"field":"s","type":"nominal","scale":{"domain":["a","b","c","d","r"],"range":["square","circle","triangle-down","triangle-up","M-4.5,0H4.5"]}}}}
 ]},
{"width":396,"height":117.5,
 "layer":[
  {"data":{"name":"ph1"},"transform":[{"filter":"datum.s != 'r'"}],"mark":{"type":"line","strokeWidth":1.8},
   "encoding":{"x":{"field":"t","type":"quantitative","scale":{"domain":[0,4400],"nice":false},"axis":{"values":[0,500,1000,1500,2000,2500,3000,3500,4000],"tickCount":30,"format":"d","labelOverlap":false,"title":"t, s","titleY":34,"titleBaseline":"middle"}},
    "y":{"field":"v","type":"quantitative","scale":{"domain":[6.5,8.5],"nice":false,"zero":false},"axis":{"values":[6.5,7,7.5,8,8.5],"tickCount":30,"format":"~g","labelOverlap":false,"title":"pH","titleX":-37,"titleY":55.5,"titleBaseline":"middle","titleAngle":-90}},
    "color":{"field":"s","type":"nominal","scale":{"domain":["a","b","c","d","r"],"range":["#0000ff","#6cc31a","#ff7f40","#c4122f","#000000"]}}}},
  {"data":{"name":"ph1"},"transform":[{"filter":"datum.s == 'r'"}],"mark":{"type":"line","strokeWidth":2.6,"color":"#000"},
   "encoding":{"x":{"field":"t","type":"quantitative","scale":{"domain":[0,4400],"nice":false}},"y":{"field":"v","type":"quantitative","scale":{"domain":[6.5,8.5],"nice":false,"zero":false}}}},
  {"data":{"name":"bars1"},"mark":{"type":"rect","color":"#bfbfbf","stroke":"#333","strokeWidth":1},
   "encoding":{"x":{"field":"t0","type":"quantitative","scale":{"domain":[0,4400],"nice":false}},"x2":{"field":"t1"},"y":{"field":"top","type":"quantitative","scale":{"domain":[6.5,8.5],"nice":false,"zero":false}},"y2":{"field":"bot"}}},
  {"data":{"name":"bars1"},"mark":{"type":"rect","color":"#bfbfbf"},
   "encoding":{"x":{"field":"l0","type":"quantitative","scale":{"domain":[0,4400],"nice":false}},"x2":{"field":"l1"},"y":{"field":"ltop","type":"quantitative","scale":{"domain":[6.5,8.5],"nice":false,"zero":false}},"y2":{"field":"lbot"}}},
  {"data":{"name":"bars1"},"mark":{"type":"text","align":"left","baseline":"top","dx":1.5,"dy":1,"fontSize":15,"font":"Liberation Sans","color":"#222"},
   "encoding":{"x":{"field":"l0","type":"quantitative","scale":{"domain":[0,4400],"nice":false}},"y":{"field":"ltop","type":"quantitative","scale":{"domain":[6.5,8.5],"nice":false,"zero":false}},"text":{"field":"n"}}},
  {"data":{"name":"vl1"},"mark":{"type":"rule","strokeDash":[7,5],"color":"#333","strokeWidth":1.1},
   "encoding":{"x":{"field":"t","type":"quantitative","scale":{"domain":[0,4400],"nice":false}}}},
  {"data":{"name":"ph1"},"transform":[{"filter":"datum.s != 'r'"},{"filter":{"field":"t","oneOf":[1000,2000,3000,4000]}}],
   "mark":{"type":"point","filled":false,"size":90,"strokeWidth":1.8,"opacity":1},
   "encoding":{"x":{"field":"t","type":"quantitative","scale":{"domain":[0,4400],"nice":false}},"y":{"field":"v","type":"quantitative","scale":{"domain":[6.5,8.5],"nice":false,"zero":false}},
    "color":{"field":"s","type":"nominal","scale":{"domain":["a","b","c","d","r"],"range":["#0000ff","#6cc31a","#ff7f40","#c4122f","#000000"]}},
    "shape":{"field":"s","type":"nominal","scale":{"domain":["a","b","c","d","r"],"range":["square","circle","triangle-down","triangle-up","M-4.5,0H4.5"]}}}}
 ]},
{"width":385.5,"height":117.5,
 "layer":[
  {"data":{"name":"ph2"},"transform":[{"filter":"datum.s != 'r'"}],"mark":{"type":"line","strokeWidth":1.8,"clip":true},
   "encoding":{"x":{"field":"t","type":"quantitative","scale":{"domain":[0,2268],"nice":false},"axis":{"values":[0,500,1000,1500,2000],"tickCount":30,"format":"d","labelOverlap":false,"title":"t, s","titleY":34,"titleBaseline":"middle"}},
    "y":{"field":"v","type":"quantitative","scale":{"domain":[6.5,8.5],"nice":false,"zero":false},"axis":{"values":[6.5,7,7.5,8,8.5],"tickCount":30,"format":"~g","labelOverlap":false,"title":"pH","titleX":-40.5,"titleY":57.5,"titleBaseline":"middle","titleAngle":-90}},
    "color":{"field":"s","type":"nominal","scale":{"domain":["a","b","c","d","r"],"range":["#0000ff","#6cc31a","#ff7f40","#c4122f","#000000"]}}}},
  {"data":{"name":"ph2"},"transform":[{"filter":"datum.s == 'r'"}],"mark":{"type":"line","strokeWidth":2.6,"color":"#000","clip":true},
   "encoding":{"x":{"field":"t","type":"quantitative","scale":{"domain":[0,2268],"nice":false}},"y":{"field":"v","type":"quantitative","scale":{"domain":[6.5,8.5],"nice":false,"zero":false}}}},
  {"data":{"name":"bars2"},"mark":{"type":"rect","color":"#bfbfbf","stroke":"#333","strokeWidth":1,"clip":true},
   "encoding":{"x":{"field":"t0","type":"quantitative","scale":{"domain":[0,2268],"nice":false}},"x2":{"field":"t1"},"y":{"field":"top","type":"quantitative","scale":{"domain":[6.5,8.5],"nice":false,"zero":false}},"y2":{"field":"bot"}}},
  {"data":{"name":"bars2"},"mark":{"type":"rect","color":"#bfbfbf"},
   "encoding":{"x":{"field":"l0","type":"quantitative","scale":{"domain":[0,2268],"nice":false}},"x2":{"field":"l1"},"y":{"field":"ltop","type":"quantitative","scale":{"domain":[6.5,8.5],"nice":false,"zero":false}},"y2":{"field":"lbot"}}},
  {"data":{"name":"bars2"},"mark":{"type":"text","align":"left","baseline":"top","dx":1.5,"dy":1,"fontSize":15,"font":"Liberation Sans","color":"#222"},
   "encoding":{"x":{"field":"l0","type":"quantitative","scale":{"domain":[0,2268],"nice":false}},"y":{"field":"ltop","type":"quantitative","scale":{"domain":[6.5,8.5],"nice":false,"zero":false}},"text":{"field":"n"}}},
  {"data":{"name":"vl2"},"mark":{"type":"rule","strokeDash":[7,5],"color":"#333","strokeWidth":1.1},
   "encoding":{"x":{"field":"t","type":"quantitative","scale":{"domain":[0,2268],"nice":false}}}},
  {"data":{"name":"ph2"},"transform":[{"filter":"datum.s != 'r'"},{"filter":{"field":"t","oneOf":[500,1000,1500,2000]}}],
   "mark":{"type":"point","filled":false,"size":90,"strokeWidth":1.8,"opacity":1},
   "encoding":{"x":{"field":"t","type":"quantitative","scale":{"domain":[0,2268],"nice":false}},"y":{"field":"v","type":"quantitative","scale":{"domain":[6.5,8.5],"nice":false,"zero":false}},
    "color":{"field":"s","type":"nominal","scale":{"domain":["a","b","c","d","r"],"range":["#0000ff","#6cc31a","#ff7f40","#c4122f","#000000"]}},
    "shape":{"field":"s","type":"nominal","scale":{"domain":["a","b","c","d","r"],"range":["square","circle","triangle-down","triangle-up","M-4.5,0H4.5"]}}}}
 ]}
]
}
